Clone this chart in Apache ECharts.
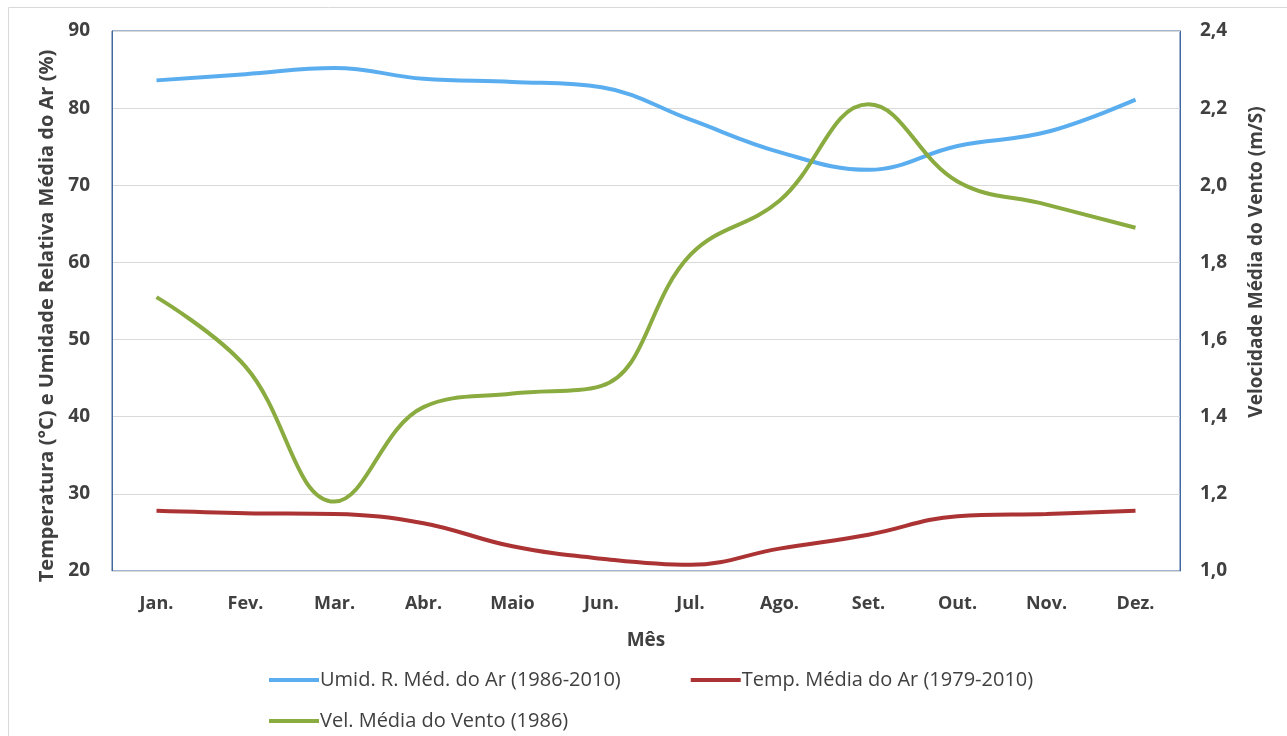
<!DOCTYPE html>
<html>
<head>
<meta charset="utf-8">
<script src="https://cdn.jsdelivr.net/npm/echarts@6/dist/echarts.min.js"></script>
<style>
  html, body { margin: 0; padding: 0; background: #fff; }
  #chart { width: 1287px; height: 736px; }
</style>
</head>
<body>
<div id="chart"></div>
<script>
// dados
const meses = ['Jan.', 'Fev.', 'Mar.', 'Abr.', 'Maio', 'Jun.', 'Jul.', 'Ago.', 'Set.', 'Out.', 'Nov.', 'Dez.'];
const umidade = [83.6, 84.4, 85.2, 83.8, 83.4, 82.7, 78.5, 74.3, 72.0, 75.1, 76.9, 81.1];
const temperatura = [27.8, 27.5, 27.4, 26.2, 23.2, 21.6, 20.8, 22.9, 24.7, 27.1, 27.4, 27.8];
const vento = [1.71, 1.53, 1.18, 1.425, 1.46, 1.48, 1.82, 1.96, 2.21, 2.01, 1.95, 1.89];

const FONT = '"Open Sans", sans-serif';
const TXT = '#404040';

const chart = echarts.init(document.getElementById('chart'));

const option = {
  backgroundColor: '#fff',
  animation: false,
  textStyle: { fontFamily: FONT, color: TXT },
  grid: {
    left: 112, right: 107, top: 31, bottom: 165,
    show: true, borderColor: '#41689e', borderWidth: 1
  },
  graphic: [
    {
      type: 'rect', left: 6, top: 5,
      shape: { width: 1290, height: 740 },
      style: { fill: 'none', stroke: '#d9d9d9', lineWidth: 1 },
      silent: true
    },
    {
      type: 'text', x: 47, y: 316, rotation: Math.PI / 2,
      style: {
        text: 'Temperatura (°C) e Umidade Relativa Média do Ar (%)',
        fontFamily: FONT, fontWeight: 'bold', fontSize: 20, fill: TXT,
        align: 'center', verticalAlign: 'middle'
      }
    },
    {
      type: 'text', x: 1257, y: 262, rotation: Math.PI / 2,
      style: {
        text: 'Velocidade Média do Vento (m/S)',
        fontFamily: FONT, fontWeight: 'bold', fontSize: 19, fill: TXT,
        align: 'center', verticalAlign: 'middle'
      }
    }
  ],
  legend: [
    {
      left: 264, top: 665,
      itemWidth: 50, itemHeight: 4, itemGap: 70,
      icon: 'rect',
      textStyle: { fontFamily: FONT, fontSize: 20, color: TXT, padding: [0, 0, 0, -4] },
      data: ['Umid. R. Méd. do Ar (1986-2010)', 'Temp. Média do Ar (1979-2010)']
    },
    {
      left: 264, top: 706,
      itemWidth: 50, itemHeight: 4,
      icon: 'rect',
      textStyle: { fontFamily: FONT, fontSize: 20, color: TXT, padding: [0, 0, 0, -4] },
      data: ['Vel. Média do Vento (1986)']
    }
  ],
  xAxis: {
    type: 'category',
    data: meses,
    boundaryGap: true,
    name: 'Mês',
    nameLocation: 'middle',
    nameGap: 60,
    nameTextStyle: { fontFamily: FONT, fontSize: 19, fontWeight: 'bold', color: TXT },
    axisLine: { lineStyle: { color: '#d9d9d9', width: 1 } },
    axisTick: { show: false },
    axisLabel: { margin: 24, fontFamily: FONT, fontSize: 18, fontWeight: 'bold', color: TXT }
  },
  yAxis: [
    {
      type: 'value',
      min: 20, max: 90, interval: 10,
      axisLine: { show: true, lineStyle: { color: '#41689e' } },
      axisTick: { show: false },
      splitLine: { lineStyle: { color: '#d9d9d9', width: 1 } },
      axisLabel: { margin: 22, fontFamily: FONT, fontSize: 19, fontWeight: 'bold', color: TXT }
    },
    {
      type: 'value',
      min: 1.0, max: 2.4, interval: 0.2,
      axisLine: { show: true, lineStyle: { color: '#41689e' } },
      axisTick: { show: false },
      splitLine: { show: false },
      axisLabel: {
        margin: 20, fontFamily: FONT, fontSize: 19, fontWeight: 'bold', color: TXT,
        formatter: (v) => v.toFixed(1).replace('.', ',')
      }
    }
  ],
  series: [
    {
      name: 'Umid. R. Méd. do Ar (1986-2010)',
      type: 'line',
      data: umidade,
      smooth: 0.4,
      symbol: 'none',
      lineStyle: { color: '#5aaeef', width: 4 },
      itemStyle: { color: '#5aaeef' }
    },
    {
      name: 'Temp. Média do Ar (1979-2010)',
      type: 'line',
      data: temperatura,
      smooth: 0.4,
      symbol: 'none',
      lineStyle: { color: '#ab3334', width: 4 },
      itemStyle: { color: '#ab3334' }
    },
    {
      name: 'Vel. Média do Vento (1986)',
      type: 'line',
      yAxisIndex: 1,
      data: vento,
      smooth: 0.4,
      symbol: 'none',
      lineStyle: { color: '#8aab3f', width: 4 },
      itemStyle: { color: '#8aab3f' }
    }
  ]
};

chart.setOption(option);
</script>
</body>
</html>
